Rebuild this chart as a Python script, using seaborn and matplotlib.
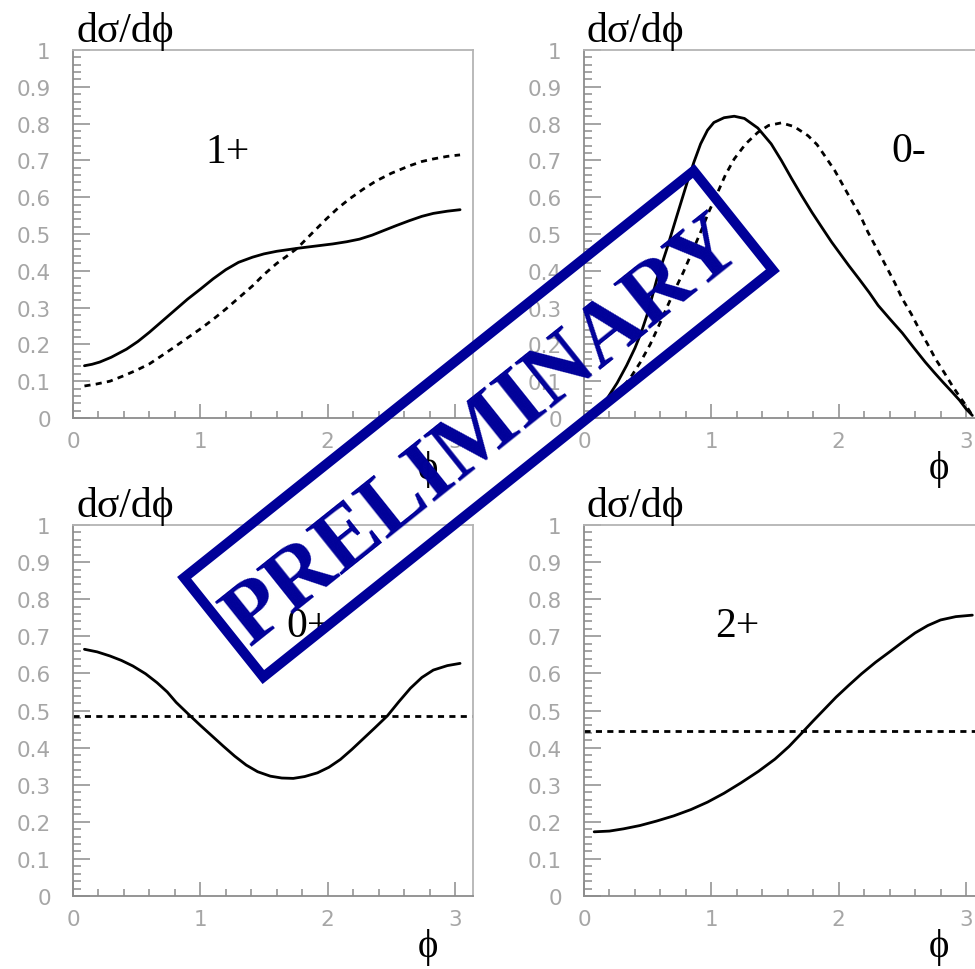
import numpy as np
import pandas as pd
import matplotlib
matplotlib.use("Agg")
import matplotlib.pyplot as plt
from matplotlib.ticker import MultipleLocator, FuncFormatter
from matplotlib.patches import Rectangle
from matplotlib.transforms import IdentityTransform
import seaborn as sns

# ---- angular distributions dsigma/dphi for each spin-parity hypothesis ----
# 1+
phi_1p_solid = [0.09, 0.15, 0.21, 0.30, 0.42, 0.51, 0.60, 0.70, 0.81, 0.90, 1.00, 1.10, 1.20, 1.30, 1.41,
                1.50, 1.60, 1.68, 1.76, 1.90, 2.04, 2.15, 2.25, 2.35, 2.43, 2.54, 2.64, 2.74, 2.83, 2.94, 3.04]
val_1p_solid = [0.142, 0.146, 0.152, 0.165, 0.187, 0.208, 0.233, 0.263, 0.296, 0.323, 0.350, 0.378, 0.403, 0.423, 0.437,
                0.446, 0.453, 0.457, 0.461, 0.467, 0.473, 0.479, 0.486, 0.497, 0.508, 0.523, 0.536, 0.548, 0.556, 0.562, 0.566]
phi_1p_dash = [0.09, 0.18, 0.29, 0.40, 0.50, 0.60, 0.70, 0.81, 0.90, 1.00, 1.10, 1.20, 1.30, 1.41, 1.50,
               1.60, 1.68, 1.76, 1.88, 1.99, 2.08, 2.17, 2.28, 2.38, 2.50, 2.64, 2.74, 2.83, 2.94, 3.04]
val_1p_dash = [0.087, 0.092, 0.100, 0.115, 0.130, 0.147, 0.170, 0.196, 0.218, 0.242, 0.268, 0.296, 0.326, 0.359, 0.390,
               0.420, 0.440, 0.461, 0.503, 0.541, 0.570, 0.595, 0.622, 0.644, 0.665, 0.685, 0.697, 0.704, 0.711, 0.715]

# 0-
phi_0m_solid = [0.05, 0.12, 0.18, 0.26, 0.335, 0.40, 0.45, 0.50, 0.573, 0.65, 0.73, 0.81, 0.863, 0.916, 0.97,
                1.02, 1.10, 1.18, 1.26, 1.365, 1.47, 1.55, 1.63, 1.71, 1.79, 1.87, 1.945, 2.08, 2.16, 2.24,
                2.31, 2.40, 2.50, 2.59, 2.68, 2.75, 2.82, 2.89, 2.95, 3.00, 3.05]
val_0m_solid = [0.007, 0.025, 0.052, 0.095, 0.143, 0.190, 0.233, 0.285, 0.378, 0.459, 0.550, 0.640, 0.695, 0.745, 0.782,
                0.803, 0.816, 0.820, 0.814, 0.788, 0.745, 0.700, 0.651, 0.604, 0.559, 0.517, 0.478, 0.414, 0.378, 0.341,
                0.306, 0.270, 0.231, 0.191, 0.152, 0.124, 0.097, 0.071, 0.048, 0.025, 0.007]
phi_0m_dash = [0.12, 0.24, 0.36, 0.44, 0.52, 0.58, 0.64, 0.705, 0.78, 0.85, 0.916, 0.98, 1.05, 1.11, 1.18,
               1.27, 1.365, 1.45, 1.55, 1.65, 1.76, 1.83, 1.89, 1.97, 2.08, 2.17, 2.23, 2.30, 2.37, 2.44,
               2.50, 2.57, 2.63, 2.70, 2.76, 2.83, 2.89, 2.95, 3.00, 3.05]
val_0m_dash = [0.025, 0.060, 0.107, 0.150, 0.200, 0.245, 0.292, 0.342, 0.396, 0.452, 0.505, 0.560, 0.613, 0.660, 0.704,
               0.745, 0.776, 0.795, 0.802, 0.792, 0.767, 0.743, 0.713, 0.672, 0.604, 0.550, 0.505, 0.460, 0.414, 0.368,
               0.324, 0.283, 0.243, 0.200, 0.161, 0.123, 0.089, 0.058, 0.034, 0.007]

# 0+
phi_0p_solid = [0.09, 0.19, 0.29, 0.38, 0.47, 0.57, 0.66, 0.74, 0.81, 0.91, 1.00, 1.09, 1.18, 1.27, 1.36,
                1.45, 1.55, 1.64, 1.73, 1.82, 1.92, 2.01, 2.10, 2.19, 2.28, 2.37, 2.47, 2.56, 2.65, 2.74,
                2.83, 2.94, 3.04]
val_0p_solid = [0.665, 0.658, 0.647, 0.635, 0.620, 0.599, 0.575, 0.550, 0.522, 0.489, 0.460, 0.432, 0.404, 0.377, 0.353,
                0.335, 0.323, 0.318, 0.317, 0.322, 0.332, 0.347, 0.368, 0.395, 0.424, 0.453, 0.486, 0.524, 0.560, 0.589,
                0.609, 0.621, 0.627]
phi_0p_dash = [0.0, 3.1416]
val_0p_dash = [0.485, 0.485]

# 2+
phi_2p_solid = [0.08, 0.20, 0.31, 0.44, 0.57, 0.705, 0.84, 0.97, 1.10, 1.233, 1.37, 1.50, 1.61, 1.71, 1.80,
                1.89, 1.98, 2.08, 2.18, 2.29, 2.40, 2.50, 2.60, 2.70, 2.80, 2.92, 3.05]
val_2p_solid = [0.173, 0.175, 0.181, 0.190, 0.202, 0.216, 0.233, 0.253, 0.277, 0.305, 0.336, 0.369, 0.403, 0.439, 0.472,
                0.504, 0.536, 0.568, 0.599, 0.630, 0.658, 0.684, 0.709, 0.729, 0.744, 0.753, 0.757]
phi_2p_dash = [0.0, 3.1416]
val_2p_dash = [0.444, 0.444]

panel_names = ["1+", "0-", "0+", "2+"]
name_pos = [(1.21, 0.696), (2.55, 0.698), (1.85, 0.700), (1.20, 0.700)]

sns.set_style("white")
plt.rcParams["font.family"] = ["DejaVu Sans"]

SERIF = ["Liberation Serif", "DejaVu Serif"]
GRAY_AXIS = "#8c8c8c"
GRAY_TEXT = "#a6a6a6"
STAMP = "#000099"

W, H = 975, 970
fig = plt.figure(figsize=(W / 100, H / 100), dpi=100)
fig.patch.set_facecolor("white")

aw = 400 / W
boxes = [
    [73 / W, 1 - 419 / H, aw, 368 / H],
    [584 / W, 1 - 419 / H, aw, 368 / H],
    [73 / W, 1 - 897 / H, aw, 371 / H],
    [584 / W, 1 - 897 / H, aw, 371 / H],
]

curves = [
    (phi_1p_solid, val_1p_solid, phi_1p_dash, val_1p_dash),
    (phi_0m_solid, val_0m_solid, phi_0m_dash, val_0m_dash),
    (phi_0p_solid, val_0p_solid, phi_0p_dash, val_0p_dash),
    (phi_2p_solid, val_2p_solid, phi_2p_dash, val_2p_dash),
]

for box, (xs, ys, xd, yd), name, npos in zip(boxes, curves, panel_names, name_pos):
    ax = fig.add_axes(box)
    ax.set_facecolor("white")
    sns.lineplot(x=xd, y=yd, ax=ax, color="black", linewidth=2.0,
                 linestyle=(0, (2.2, 1.9)), errorbar=None)
    sns.lineplot(x=xs, y=ys, ax=ax, color="black", linewidth=2.0, errorbar=None)

    ax.set_xlim(0, np.pi)
    ax.set_ylim(0, 1)
    ax.xaxis.set_major_locator(MultipleLocator(1))
    ax.xaxis.set_minor_locator(MultipleLocator(0.2))
    ax.yaxis.set_major_locator(MultipleLocator(0.1))
    ax.yaxis.set_minor_locator(MultipleLocator(0.02))
    ax.yaxis.set_major_formatter(FuncFormatter(lambda v, p: f"{v:g}"))
    ax.xaxis.set_major_formatter(FuncFormatter(lambda v, p: f"{v:g}"))

    ax.tick_params(axis="both", which="both", bottom=True, left=True, top=False, right=False)
    ax.tick_params(axis="x", which="major", direction="in", length=10, width=1.1,
                   color=GRAY_AXIS, labelsize=15.5, labelcolor=GRAY_TEXT, pad=9)
    ax.tick_params(axis="x", which="minor", direction="in", length=5, width=1.1, color=GRAY_AXIS)
    ax.tick_params(axis="y", which="major", direction="in", length=12.5, width=1.1,
                   color=GRAY_AXIS, labelsize=15.5, labelcolor=GRAY_TEXT, pad=16)
    ax.tick_params(axis="y", which="minor", direction="in", length=6, width=1.1, color=GRAY_AXIS)
    for side, sp in ax.spines.items():
        sp.set_visible(True)
        sp.set_color(GRAY_AXIS if side in ("left", "bottom") else "#b4b4b4")
        sp.set_linewidth(1.3)
    ax.set_xlabel("")
    ax.set_ylabel("")

    ax.annotate("dσ/dϕ", xy=(0, 1), xycoords="axes fraction", xytext=(3, 9),
                textcoords="offset pixels", ha="left", va="baseline",
                fontsize=30, family=SERIF, color="black")
    ax.annotate("ϕ", xy=(0.888, 0), xycoords="axes fraction", xytext=(0, -51),
                textcoords="offset pixels", ha="center", va="center",
                fontsize=28, family=SERIF, color="black")
    ax.text(npos[0], npos[1], name, ha="center", va="baseline",
            fontsize=30, family=SERIF, color="black")

# PRELIMINARY stamp across the middle of the figure
cx, cy = 478.5, H - 425
ang = 38.6
bw, bh = 652, 127
stamp_box = Rectangle((cx - bw / 2, cy - bh / 2), bw, bh, angle=ang, rotation_point="center",
                      fill=False, edgecolor=STAMP, linewidth=7.2, transform=IdentityTransform(),
                      zorder=10)
fig.patches.append(stamp_box)
fig.text(cx / W, cy / H, "PRELIMINARY", rotation=ang, rotation_mode="anchor",
         ha="center", va="center_baseline", fontsize=63, fontweight="bold",
         family=SERIF, color=STAMP, zorder=11)

fig.savefig("out.png", dpi=100, facecolor="white")
